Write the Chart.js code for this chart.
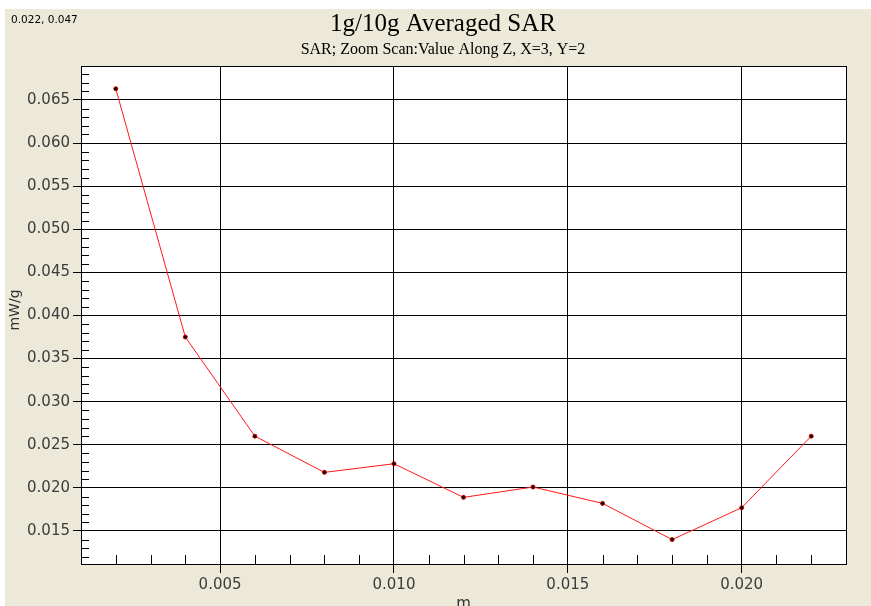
<!DOCTYPE html>
<html>
<head>
<meta charset="utf-8">
<script src="https://cdn.jsdelivr.net/npm/chart.js@4.4.1/dist/chart.umd.min.js"></script>
<style>
  html, body { margin: 0; padding: 0; background: #ffffff; }
  canvas { display: block; }
</style>
</head>
<body>
<canvas id="sar-chart" width="871" height="606"></canvas>
<script>
// Data
const positions = [0.002, 0.004, 0.006, 0.008, 0.010, 0.012, 0.014, 0.016, 0.018, 0.020, 0.022];
const sarValues = [0.0663, 0.0375, 0.0260, 0.0218, 0.0228, 0.0189, 0.0201, 0.0182, 0.0140, 0.0177, 0.0260];

const xTicks = [0.005, 0.010, 0.015, 0.020];
const yTicks = [0.015, 0.020, 0.025, 0.030, 0.035, 0.040, 0.045, 0.050, 0.055, 0.060, 0.065];

const chartTitle = '1g/10g Averaged SAR';
const chartSubtitle = 'SAR; Zoom Scan:Value Along Z, X=3, Y=2';
const cornerText = '0.022, 0.047';
const xTitle = 'm';
const yTitle = 'mW/g';

const beige = '#ece9d8';
const tickFont = { family: 'DejaVu Sans', size: 15 };

// Backgrounds, frame, minor ticks and the texts around the plot
const framePlugin = {
    id: 'frame',
    beforeDraw(chart) {
        const { ctx, chartArea: a } = chart;
        ctx.save();
        ctx.fillStyle = '#ffffff';
        ctx.fillRect(0, 0, chart.width, chart.height);
        ctx.fillStyle = beige;
        ctx.fillRect(5, 9, chart.width - 5, chart.height - 9);
        ctx.fillStyle = '#ffffff';
        ctx.fillRect(a.left, a.top, a.right - a.left, a.bottom - a.top);
        ctx.restore();
    },
    afterDraw(chart) {
        const { ctx, chartArea: a } = chart;
        const xs = chart.scales.x;
        const ys = chart.scales.y;
        ctx.save();
        ctx.strokeStyle = '#000000';
        ctx.lineWidth = 1;

        // minor ticks every 0.001, drawn inside the plot
        ctx.beginPath();
        for (let i = 12; i <= 68; i++) {
            if (i % 5 === 0) continue;
            const py = Math.round(ys.getPixelForValue(i / 1000)) + 0.5;
            ctx.moveTo(a.left, py);
            ctx.lineTo(a.left + 8, py);
        }
        for (let i = 2; i <= 22; i++) {
            if (i % 5 === 0) continue;
            const px = Math.round(xs.getPixelForValue(i / 1000)) + 0.5;
            ctx.moveTo(px, a.bottom);
            ctx.lineTo(px, a.bottom - 9);
        }
        ctx.stroke();

        // plot frame
        ctx.strokeRect(Math.round(a.left) + 0.5, Math.round(a.top) + 0.5,
            Math.round(a.right - a.left), Math.round(a.bottom - a.top));

        // titles
        ctx.fillStyle = '#000000';
        ctx.textAlign = 'center';
        ctx.textBaseline = 'alphabetic';
        ctx.font = '25px "Liberation Serif"';
        ctx.fillText(chartTitle, 443, 31);
        ctx.font = '16px "Liberation Serif"';
        ctx.fillText(chartSubtitle, 443, 54);

        ctx.textAlign = 'left';
        ctx.font = '10.5px "DejaVu Sans"';
        ctx.fillText(cornerText, 11, 23);

        // axis titles
        ctx.fillStyle = '#333333';
        ctx.textAlign = 'center';
        ctx.textBaseline = 'top';
        ctx.font = '15px "DejaVu Sans"';
        ctx.fillText(xTitle, (a.left + a.right) / 2, 597);

        ctx.translate(15, 310);
        ctx.rotate(-Math.PI / 2);
        ctx.textBaseline = 'middle';
        ctx.font = '14px "DejaVu Sans"';
        ctx.fillText(yTitle, 0, 0);
        ctx.restore();
    }
};

const chartCanvas = document.getElementById('sar-chart');

new Chart(chartCanvas, {
    type: 'line',
    data: {
        datasets: [{
            data: positions.map((x, i) => ({ x: x, y: sarValues[i] })),
            borderColor: '#ff1a1a',
            borderWidth: 1,
            pointRadius: 2,
            pointBackgroundColor: '#000000',
            pointBorderColor: '#cc0000',
            pointBorderWidth: 1,
            tension: 0
        }]
    },
    options: {
        responsive: false,
        animation: false,
        devicePixelRatio: 1,
        layout: { padding: { left: 0, top: 66, right: 25, bottom: 0 } },
        plugins: {
            legend: { display: false },
            tooltip: { enabled: false }
        },
        scales: {
            x: {
                type: 'linear',
                min: 0.001,
                max: 0.023,
                afterFit: (scale) => { scale.height = 42; },
                afterBuildTicks: (scale) => { scale.ticks = xTicks.map(v => ({ value: v })); },
                grid: { color: '#000000', lineWidth: 1, tickLength: 9, drawTicks: true },
                border: { color: '#000000', width: 1 },
                ticks: {
                    color: '#3c3c3c',
                    font: tickFont,
                    padding: 3,
                    maxRotation: 0,
                    callback: (v) => Number(v).toFixed(3)
                }
            },
            y: {
                type: 'linear',
                min: 0.01117,
                max: 0.06894,
                afterFit: (scale) => { scale.width = 81; },
                afterBuildTicks: (scale) => { scale.ticks = yTicks.map(v => ({ value: v })); },
                grid: { color: '#000000', lineWidth: 1, tickLength: 8, drawTicks: true },
                border: { color: '#000000', width: 1 },
                ticks: {
                    color: '#3c3c3c',
                    font: tickFont,
                    padding: 3,
                    callback: (v) => Number(v).toFixed(3)
                }
            }
        }
    },
    plugins: [framePlugin]
});
</script>
</body>
</html>
